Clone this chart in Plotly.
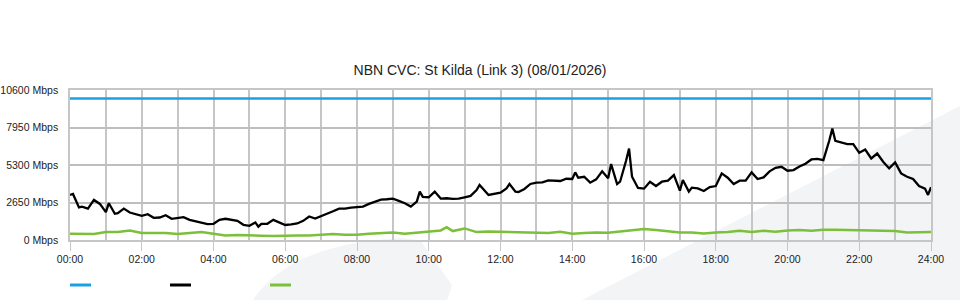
import plotly.graph_objects as go

# ---- data ----
capacity_times = ["00:00", "24:00"]
capacity_mbps = [10000, 10000]

traffic_times = [
    "00:00","00:05","00:15","00:20","00:30","00:40","00:50","01:00","01:05","01:15","01:20","01:30","01:40","01:50",
    "02:00","02:10","02:20","02:30","02:40","02:50","03:00","03:10","03:20","03:30","03:40","03:50",
    "04:00","04:10","04:20","04:30","04:40","04:50","05:00","05:10","05:15","05:20","05:30","05:40","05:50",
    "06:00","06:10","06:20","06:30","06:40","06:50","07:00","07:10","07:20","07:30","07:40","07:50",
    "08:00","08:10","08:20","08:30","08:40","08:50","09:00","09:10","09:20","09:30","09:40","09:45","09:50",
    "10:00","10:10","10:20","10:30","10:40","10:50","11:00","11:10","11:20","11:25","11:40","11:50",
    "12:00","12:10","12:15","12:25","12:30","12:40","12:50","13:00","13:10","13:20","13:30","13:40","13:50",
    "14:00","14:05","14:10","14:20","14:30","14:40","14:50","15:00","15:05","15:15","15:20","15:30","15:35","15:40","15:50",
    "16:00","16:10","16:20","16:30","16:40","16:50","17:00","17:05","17:15","17:20","17:30","17:40","17:50",
    "18:00","18:10","18:20","18:30","18:40","18:50","19:00","19:10","19:20","19:30","19:40","19:50",
    "20:00","20:10","20:20","20:30","20:40","20:50","21:00","21:10","21:15","21:20","21:30","21:40","21:50",
    "22:00","22:10","22:20","22:30","22:40","22:50","23:00","23:10","23:20","23:30","23:40","23:50","23:55","24:00",
]
traffic_mbps = [
    3190,3255,2300,2360,2220,2830,2550,1970,2600,1850,1895,2220,1940,1825,
    1710,1825,1570,1590,1755,1500,1545,1615,1425,1310,1215,1120,
    1145,1425,1500,1425,1355,1075,1005,1240,940,1145,1145,1425,1240,
    1060,1100,1170,1355,1660,1520,1710,1870,2035,2220,2220,2295,
    2315,2365,2550,2715,2855,2880,2925,2760,2600,2365,2715,3420,3050,
    3020,3420,2925,2950,2900,2925,3020,3115,3535,3890,3185,3280,
    3350,3650,3960,3420,3395,3605,3960,4050,4075,4215,4190,4170,4330,
    4310,4780,4400,4470,4050,4285,4850,4355,5365,3950,4120,5600,6465,4470,3675,
    3630,4120,3815,4120,4190,4590,3490,4240,3420,3700,3650,3465,3745,
    3815,4705,4400,3960,4190,4190,4780,4310,4425,4850,5105,5175,
    4895,4940,5200,5385,5690,5735,5645,7050,7870,7000,6900,6770,6770,
    6160,6395,5760,6110,5530,5060,5480,4705,4470,4310,3815,3630,3185,3725,
]

upload_times = [
    "00:00","00:20","00:40","01:00","01:20","01:40","02:00","02:20","02:40","03:00","03:20","03:40",
    "04:00","04:20","04:40","05:00","05:20","05:40","06:00","06:20","06:40","07:00","07:20","07:40",
    "08:00","08:20","08:40","09:00","09:20","09:40","10:00","10:20","10:30","10:40","11:00","11:20","11:40",
    "12:00","12:20","12:40","13:00","13:20","13:40","14:00","14:20","14:40","15:00","15:20","15:40",
    "16:00","16:20","16:40","17:00","17:20","17:40","18:00","18:20","18:40","19:00","19:20","19:40",
    "20:00","20:20","20:40","21:00","21:20","21:40","22:00","22:20","22:40","23:00","23:20","23:40","24:00",
]
upload_mbps = [
    443,443,420,560,560,677,490,490,490,420,490,560,
    443,326,350,302,302,279,326,326,326,350,420,373,
    373,443,490,537,443,513,560,677,910,630,818,560,607,
    583,560,537,490,490,583,443,490,537,513,607,677,
    770,700,630,537,537,467,537,560,653,560,653,583,
    677,700,653,724,724,700,677,700,677,630,537,537,560,
]

y_tick_vals = [0, 2650, 5300, 7950, 10600]
y_tick_text = ["0 Mbps", "2650 Mbps", "5300 Mbps", "7950 Mbps", "10600 Mbps"]
x_tick_vals = list(range(0, 25, 2))
x_tick_text = [f"{h:02d}:00" for h in x_tick_vals]

title_text = "NBN CVC: St Kilda (Link 3) (08/01/2026)"

COL_CAP = "#1ba1e2"
COL_DOWN = "#000000"
COL_UP = "#7cbf3a"


def to_hours(ts):
    return [int(t[:2]) + int(t[3:]) / 60 for t in ts]


fig = go.Figure()
fig.add_trace(go.Scatter(x=to_hours(capacity_times), y=capacity_mbps, mode="lines",
                         line=dict(color=COL_CAP, width=2.5), name="Capacity"))
fig.add_trace(go.Scatter(x=to_hours(upload_times), y=upload_mbps, mode="lines",
                         line=dict(color=COL_UP, width=2.5), name="Upload"))
fig.add_trace(go.Scatter(x=to_hours(traffic_times), y=traffic_mbps, mode="lines",
                         line=dict(color=COL_DOWN, width=2.3), name="Download"))

L, R, T, B = 70, 29, 90, 60
PW, PH = 960 - L - R, 300 - T - B


def px(xp):
    return (xp - L) / PW


def py(yp):
    return (T + PH - yp) / PH


shapes = []
# background watermark shapes
shapes.append(dict(type="path", xref="paper", yref="paper", layer="below",
                   path=f"M {px(582)},{py(300)} L {px(960)},{py(106)} L {px(960)},{py(300)} Z",
                   fillcolor="#f3f4f6", line=dict(width=0)))
shapes.append(dict(type="path", xref="paper", yref="paper", layer="below",
                   path=(f"M {px(253)},{py(300)} Q {px(290)},{py(244)} {px(400)},{py(238)} "
                         f"L {px(420)},{py(240)} L {px(452)},{py(285)} L {px(447)},{py(300)} Z"),
                   fillcolor="#f3f4f6", line=dict(width=0)))
# legend swatches
for i, c in enumerate([COL_CAP, COL_DOWN, COL_UP]):
    x0 = 70 + 100 * i
    shapes.append(dict(type="line", xref="paper", yref="paper",
                       x0=px(x0), x1=px(x0 + 21), y0=py(285), y1=py(285),
                       line=dict(color=c, width=3)))

fig.update_layout(
    width=960, height=300,
    margin=dict(l=L, r=R, t=T, b=B, autoexpand=False),
    paper_bgcolor="white", plot_bgcolor="rgba(0,0,0,0)",
    showlegend=False,
    font=dict(family="Liberation Sans, Arial, sans-serif", size=10.5, color="#222"),
    title=dict(text=title_text, x=0.5, xref="container", xanchor="center",
               y=1 - 70.5 / 300, yref="container", yanchor="middle",
               font=dict(size=14, color="#222")),
    shapes=shapes,
)
fig.update_xaxes(range=[0, 24], tickvals=x_tick_vals, ticktext=x_tick_text,
                 showgrid=True, gridcolor="#c6c6c6", gridwidth=1.5,
                 minor=dict(dtick=1, tick0=0, showgrid=True, gridcolor="#c6c6c6", gridwidth=1.5),
                 ticks="outside", ticklen=9, tickcolor="#c6c6c6", tickwidth=1,
                 showline=True, linecolor="#c6c6c6", linewidth=1.5, mirror=True,
                 zeroline=False, automargin=False, tickfont=dict(size=10.5, color="#222"))
fig.update_yaxes(range=[0, 10600], tickvals=y_tick_vals, ticktext=y_tick_text,
                 showgrid=True, gridcolor="#bebebe", gridwidth=2,
                 showline=True, linecolor="#c6c6c6", linewidth=1.5, mirror=True,
                 zeroline=False, ticks="", ticklabelstandoff=8, automargin=False,
                 tickfont=dict(size=10.5, color="#222"))

fig.write_html("out.html")
